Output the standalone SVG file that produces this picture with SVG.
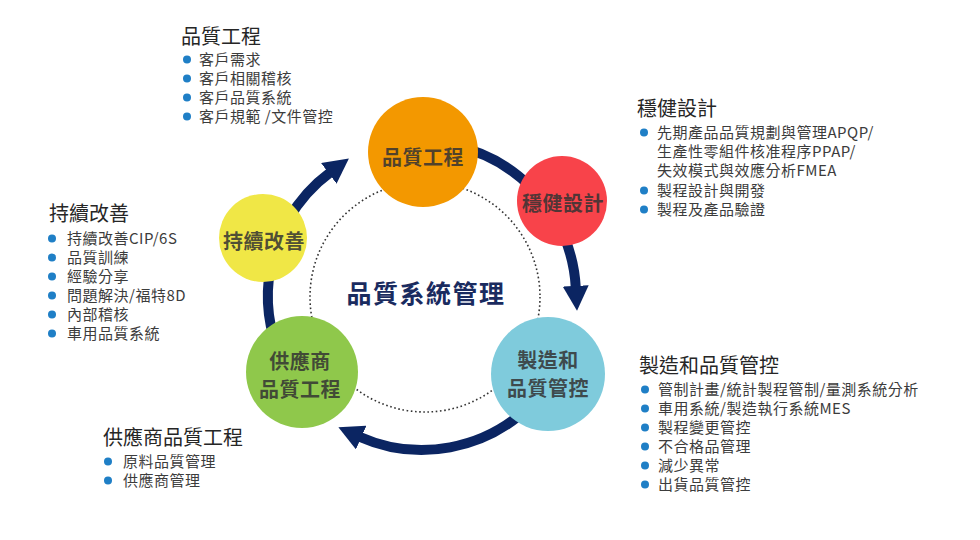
<svg xmlns="http://www.w3.org/2000/svg" width="980" height="540" viewBox="0 0 980 540">
<style>
text{font-family:"Noto Sans CJK TC","Noto Sans CJK SC",sans-serif;}
.ttl{font-size:20px;fill:#262626;}
.itm{font-size:15px;fill:#3c3c3c;letter-spacing:0.5px;}
.bul{fill:#1F7FC6;}
.lbl{font-size:20px;font-weight:bold;fill:#333;fill-opacity:0.85;text-anchor:middle;letter-spacing:0.5px;}
.ctr{font-size:25px;font-weight:bold;fill:#1A2B5F;text-anchor:middle;letter-spacing:1.5px;}
.ring{fill:none;stroke:#0B2562;stroke-width:10;}
.dot{fill:none;stroke:#333;stroke-width:1.6;stroke-dasharray:1.6 2.6;}
</style>
<defs>
<marker id="ah" markerUnits="userSpaceOnUse" viewBox="0 0 25 26" markerWidth="25" markerHeight="26" refX="2" refY="13" orient="auto">
<path d="M0,0 L25,13 L0,26 Z" fill="#0B2562"/>
</marker>
</defs>
<rect width="980" height="540" fill="#ffffff"/>
<g id="connectors">
<circle class="dot" cx="425" cy="297" r="115"/>
<path class="ring" d="M288.6,219 A154 154 0 0 1 330.4,172.2" marker-end="url(#ah)"/>
<path class="ring" d="M454,145.4 A154 154 0 0 1 530.9,187.1"/>
<path class="ring" d="M555.4,219 A154 154 0 0 1 575.8,287.9" marker-end="url(#ah)"/>
<path class="ring" d="M530.9,404.9 A154 154 0 0 1 359.4,436.7" marker-end="url(#ah)"/>
<path class="ring" d="M277.3,348.7 A154 154 0 0 1 273.2,256.1"/>
</g>
<g id="node-quality-eng">
<circle cx="423" cy="152" r="55" fill="#F39800"/>
<text class="lbl" x="423" y="165">品質工程</text>
</g>
<g id="node-robust-design">
<circle cx="562" cy="201" r="45" fill="#F8434A"/>
<text class="lbl" x="563" y="211">穩健設計</text>
</g>
<g id="node-mfg">
<circle cx="548" cy="374" r="57" fill="#7FCBDC"/>
<text class="lbl" x="548" y="368">製造和</text>
<text class="lbl" x="548" y="396">品質管控</text>
</g>
<g id="node-supplier">
<circle cx="302" cy="372" r="56" fill="#8FC84B"/>
<text class="lbl" x="300" y="369">供應商</text>
<text class="lbl" x="300" y="397">品質工程</text>
</g>
<g id="node-ci">
<circle cx="263" cy="238" r="44" fill="#F0E746"/>
<text class="lbl" x="264" y="249">持續改善</text>
</g>
<g id="center-title">
<text class="ctr" x="426" y="303">品質系統管理</text>
</g>
<g id="list-quality-eng">
<text class="ttl" x="181" y="43.5">品質工程</text>
<circle class="bul" cx="187" cy="59.5" r="4"/>
<circle class="bul" cx="187" cy="78.5" r="4"/>
<circle class="bul" cx="187" cy="97.5" r="4"/>
<circle class="bul" cx="187" cy="116.5" r="4"/>
<text class="itm" x="199" y="65">客戶需求</text>
<text class="itm" x="199" y="84">客戶相關稽核</text>
<text class="itm" x="199" y="103">客戶品質系統</text>
<text class="itm" x="199" y="122">客戶規範 /文件管控</text>
</g>
<g id="list-robust-design">
<text class="ttl" x="637" y="116">穩健設計</text>
<circle class="bul" cx="644" cy="132.5" r="4"/>
<circle class="bul" cx="644" cy="190.5" r="4"/>
<circle class="bul" cx="644" cy="209.5" r="4"/>
<text class="itm" x="657" y="138">先期產品品質規劃與管理APQP/</text>
<text class="itm" x="657" y="157">生產性零組件核准程序PPAP/</text>
<text class="itm" x="657" y="176">失效模式與效應分析FMEA</text>
<text class="itm" x="657" y="196">製程設計與開發</text>
<text class="itm" x="657" y="215">製程及產品驗證</text>
</g>
<g id="list-ci">
<text class="ttl" x="49" y="221">持續改善</text>
<circle class="bul" cx="52" cy="238.5" r="4"/>
<circle class="bul" cx="52" cy="257.5" r="4"/>
<circle class="bul" cx="52" cy="276.5" r="4"/>
<circle class="bul" cx="52" cy="295.5" r="4"/>
<circle class="bul" cx="52" cy="314.5" r="4"/>
<circle class="bul" cx="52" cy="333.5" r="4"/>
<text class="itm" x="67" y="244">持續改善CIP/6S</text>
<text class="itm" x="67" y="263">品質訓練</text>
<text class="itm" x="67" y="282">經驗分享</text>
<text class="itm" x="67" y="301">問題解決/福特8D</text>
<text class="itm" x="67" y="320">內部稽核</text>
<text class="itm" x="67" y="339">車用品質系統</text>
</g>
<g id="list-mfg">
<text class="ttl" x="639" y="373">製造和品質管控</text>
<circle class="bul" cx="645" cy="389.5" r="4"/>
<circle class="bul" cx="645" cy="408.5" r="4"/>
<circle class="bul" cx="645" cy="427.5" r="4"/>
<circle class="bul" cx="645" cy="446.5" r="4"/>
<circle class="bul" cx="645" cy="465.5" r="4"/>
<circle class="bul" cx="645" cy="484.5" r="4"/>
<text class="itm" x="658" y="395">管制計畫/統計製程管制/量測系統分析</text>
<text class="itm" x="658" y="414">車用系統/製造執行系統MES</text>
<text class="itm" x="658" y="433">製程變更管控</text>
<text class="itm" x="658" y="452">不合格品管理</text>
<text class="itm" x="658" y="471">減少異常</text>
<text class="itm" x="658" y="490">出貨品質管控</text>
</g>
<g id="list-supplier">
<text class="ttl" x="103" y="445">供應商品質工程</text>
<circle class="bul" cx="108" cy="461.5" r="4"/>
<circle class="bul" cx="108" cy="480.5" r="4"/>
<text class="itm" x="123" y="467">原料品質管理</text>
<text class="itm" x="123" y="486">供應商管理</text>
</g>
</svg>
